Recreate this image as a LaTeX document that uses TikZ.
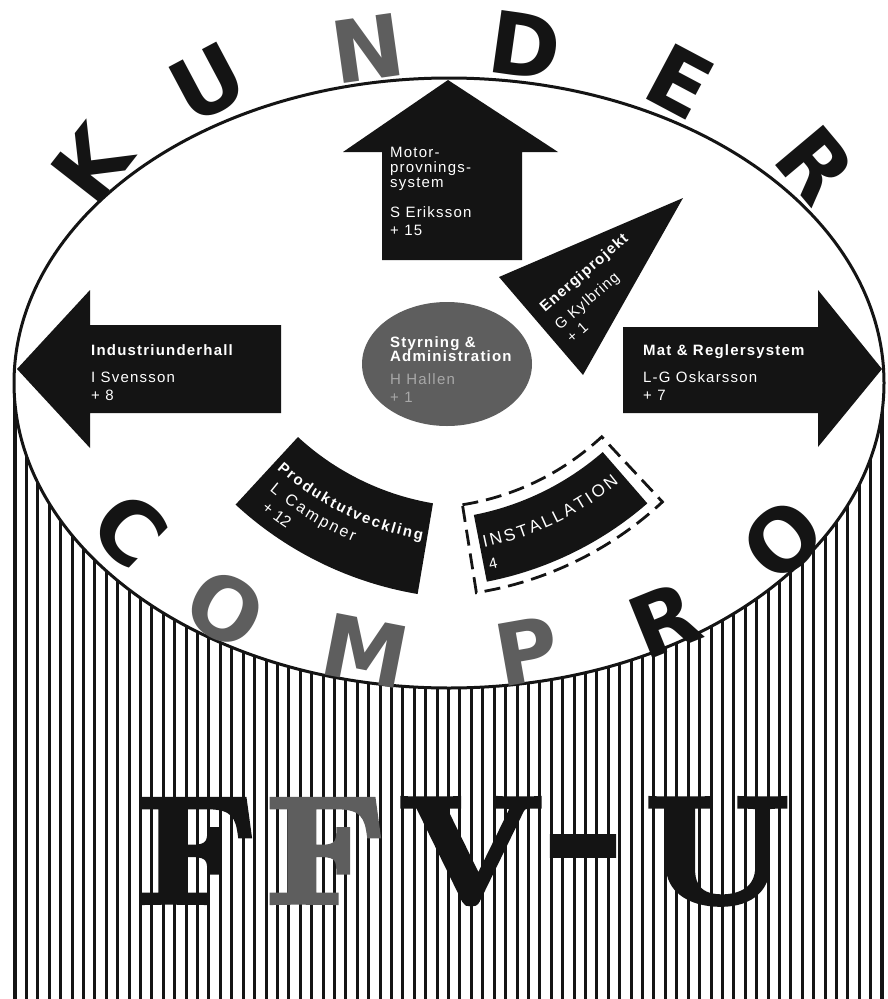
\documentclass[tikz,border=0pt]{standalone}
\usepackage{fontspec}
\usetikzlibrary{calc,decorations.text}
\newfontfamily\lab[LetterSpace=8]{Liberation Sans}
\newfontfamily\labplain{Liberation Sans}
\newfontfamily\bigsans{DejaVu Sans}
\newfontfamily\heavyserif[FakeBold=4]{Latin Modern Roman}
\definecolor{ink}{HTML}{141414}
\definecolor{midgray}{HTML}{5E5E5E}
\definecolor{softgray}{HTML}{A8A8A8}
\begin{document}
\begin{tikzpicture}[x=1pt,y=-1pt,
  lbl/.style={inner sep=0pt, anchor=base west, text=white, font=\lab\fontsize{15}{15}\selectfont},
  ttl/.style={lbl, font=\lab\bfseries\fontsize{15}{15}\selectfont},
  bigl/.style={inner sep=0pt, font=\bigsans\bfseries\fontsize{86}{86}\selectfont, text=ink},
  serifl/.style={inner sep=0pt, anchor=base, font=\heavyserif\bfseries\fontsize{150}{150}\selectfont, text=ink},
  hatch/.style={ink, line width=3},
  curvetxt/.style={decorate, decoration={text along path, text align=fit to path, text={#1}}}
  ]
\fill[white] (0,0) rectangle (888,999);
\useasboundingbox (0,0) rectangle (888,999);

% hatching of the cylinder
\foreach \i in {1,...,75} { \draw[hatch] ({15+11.41*\i},383) -- ({15+11.41*\i},999); }
\draw[ink, line width=4] (15,370) -- (15,999);
\draw[ink, line width=4] (882,370) -- (882,999);

% cylinder top
\filldraw[fill=white, draw=ink, line width=3] (449,383) ellipse [x radius=435, y radius=305];

% KUNDER
\node[bigl, rotate=52] (lK) at (91,164) {K};
\node[bigl, rotate=28] (lU) at (208,83) {U};
\node[bigl, rotate=8, text=midgray] (lN) at (368,48) {N};
\node[bigl, rotate=-8] (lD) at (525,45) {D};
\node[bigl, rotate=-28] (lE) at (680,82) {E};
\node[bigl, rotate=-50] (lR) at (816,165) {R};

% COMPRO
\node[bigl, rotate=-44] (bC) at (130,530) {C};
\node[bigl, rotate=-29, text=midgray] (bO) at (226,609) {O};
\node[bigl, rotate=-11, text=midgray] (bM) at (365,651) {M};
\node[bigl, rotate=10, text=midgray] (bP) at (527,651) {P};
\node[bigl, rotate=22] (bR) at (664,620) {R};
\node[bigl, rotate=42] (bO2) at (783,540) {O};

% FFV-U
\node[serifl] (f1) at (197,902) {\scalebox{1.12}[1]{F}};
\node[serifl, text=midgray] (f2) at (326,902) {\scalebox{1.12}[1]{F}};
\node[serifl] (fV) at (471,902) {\scalebox{1.12}[1]{V}};
\node[serifl] (fH) at (588,886) {\scalebox{1.3}[1.2]{-}};
\node[serifl] (fU) at (718,902) {\scalebox{1.12}[1]{U}};

% arrows
\fill[ink] (448,80) -- (558,152) -- (522,152) -- (522,260) -- (382,260) -- (382,152) -- (343,152) -- cycle;
\fill[ink] (17,369) -- (90,290) -- (90,325) -- (281,325) -- (281,413) -- (90,413) -- (90,448) -- cycle;
\fill[ink] (882,369) -- (818,290) -- (818,327) -- (623,327) -- (623,413) -- (818,413) -- (818,447) -- cycle;

% Energiprojekt triangle
\fill[ink] (683,198) -- (499,277) -- (583,375) -- cycle;

% centre
\fill[midgray] (447,364) ellipse [x radius=85, y radius=62];

% bands
\coordinate (P0) at (477,243);
\coordinate (I0) at (421,243);
\fill[ink] ($(P0)+(132.7:264)$) arc[start angle=132.7, end angle=99.6, radius=264]
  -- ($(P0)+(99.6:356)$) arc[start angle=99.6, end angle=132.7, radius=356] -- cycle;
\fill[ink] ($(I0)+(79:277)$) arc[start angle=79, end angle=49, radius=277]
  -- ($(I0)+(49:345)$) arc[start angle=49, end angle=79, radius=345] -- cycle;
\draw[ink, line width=2.8, dash pattern=on 16pt off 8pt]
  ($(I0)+(81:265)$) arc[start angle=81, end angle=47, radius=265]
  -- ($(I0)+(47:354)$) arc[start angle=47, end angle=81, radius=354] -- cycle;

% texts: Motor arrow
\node[lbl] (m1) at (390,157) {Motor-};
\node[lbl] (m2) at (390,172) {provnings-};
\node[lbl] (m3) at (390,187) {system};
\node[lbl] (m4) at (390,217) {S Eriksson};
\node[lbl] (m5) at (390,235) {+ 15};

% left arrow
\node[ttl] (i1) at (91,355) {Industriunderhall};
\node[lbl] (i2) at (91,382) {I Svensson};
\node[lbl] (i3) at (91,400) {+ 8};

% right arrow
\node[ttl] (r1) at (643,355) {Mat \& Reglersystem};
\node[lbl] (r2) at (643,382) {L-G Oskarsson};
\node[lbl] (r3) at (643,400) {+ 7};

% centre
\node[ttl] (c1) at (390,347) {Styrning \&};
\node[ttl] (c2) at (390,361) {Administration};
\node[lbl, text=softgray] (c3) at (390,384) {H Hallen};
\node[lbl, text=softgray] (c4) at (390,402) {+ 1};

% Energiprojekt
\node[ttl, rotate=41] (e1) at (545,313) {Energiprojekt};
\node[lbl, rotate=41] (e2) at (560,331) {G Kylbring};
\node[lbl, rotate=41] (e3) at (572,344) {+ 1};

% curved texts
\path[curvetxt={|\labplain\bfseries\fontsize{15}{15}\selectfont\color{white}|Produktutveckling}]
  ($(P0)+(131.5:302)$) arc[start angle=131.5, end angle=100.5, radius=302];
\path[curvetxt={|\labplain\fontsize{16}{16}\selectfont\color{white}|L Campner}]
  ($(P0)+(130:323)$) arc[start angle=130, end angle=112.5, radius=323];
\path[decorate, decoration={text along path, text align=left, text={|\labplain\fontsize{16}{16}\selectfont\color{white}|+ 12}}]
  ($(P0)+(129:343)$) arc[start angle=129, end angle=115, radius=343];
\path[curvetxt={|\labplain\fontsize{17}{17}\selectfont\color{white}|INSTALLATION}]
  ($(I0)+(78.3:311)$) arc[start angle=78.3, end angle=50.5, radius=311];
\node[lbl, rotate=13] (n4) at (490,570) {4};
\end{tikzpicture}
\end{document}
